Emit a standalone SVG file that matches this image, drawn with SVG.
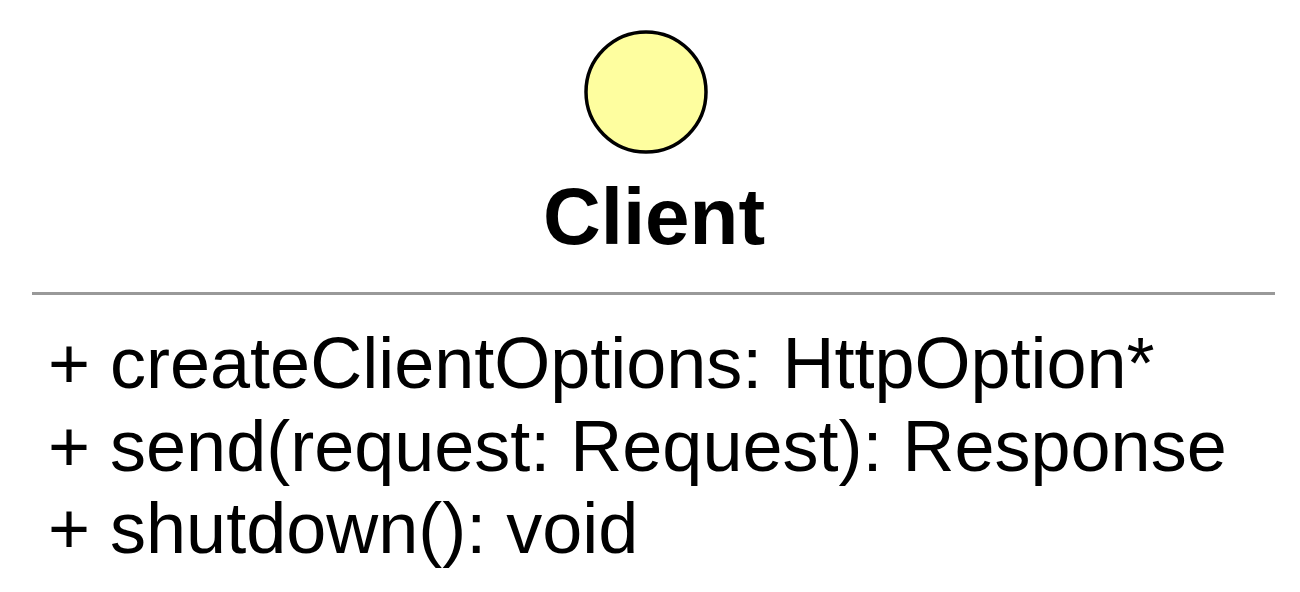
<svg xmlns="http://www.w3.org/2000/svg" width="1300" height="592" viewBox="0 0 1300 592">
<style>
.t{font-family:"Liberation Sans",Arial,sans-serif;font-size:72px;fill:#000}
.title{font-family:"Liberation Sans",Arial,sans-serif;font-size:80px;font-weight:bold;fill:#000}
</style>
<rect width="1300" height="592" fill="#fff"/>
<g id="client">
<circle cx="646" cy="92" r="60" fill="#FEFE9F" stroke="#000" stroke-width="3.5"/>
<text class="title" x="654" y="244" text-anchor="middle">Client</text>
<line x1="32" y1="293.5" x2="1275" y2="293.5" stroke="#999" stroke-width="3"/>
<text class="t" x="48" y="388">+ createClientOptions: HttpOption*</text>
<text class="t" x="48" y="471">+ send(request: Request): Response</text>
<text class="t" x="48" y="553">+ shutdown(): void</text>
</g>
<g id="connectors"/>
</svg>
